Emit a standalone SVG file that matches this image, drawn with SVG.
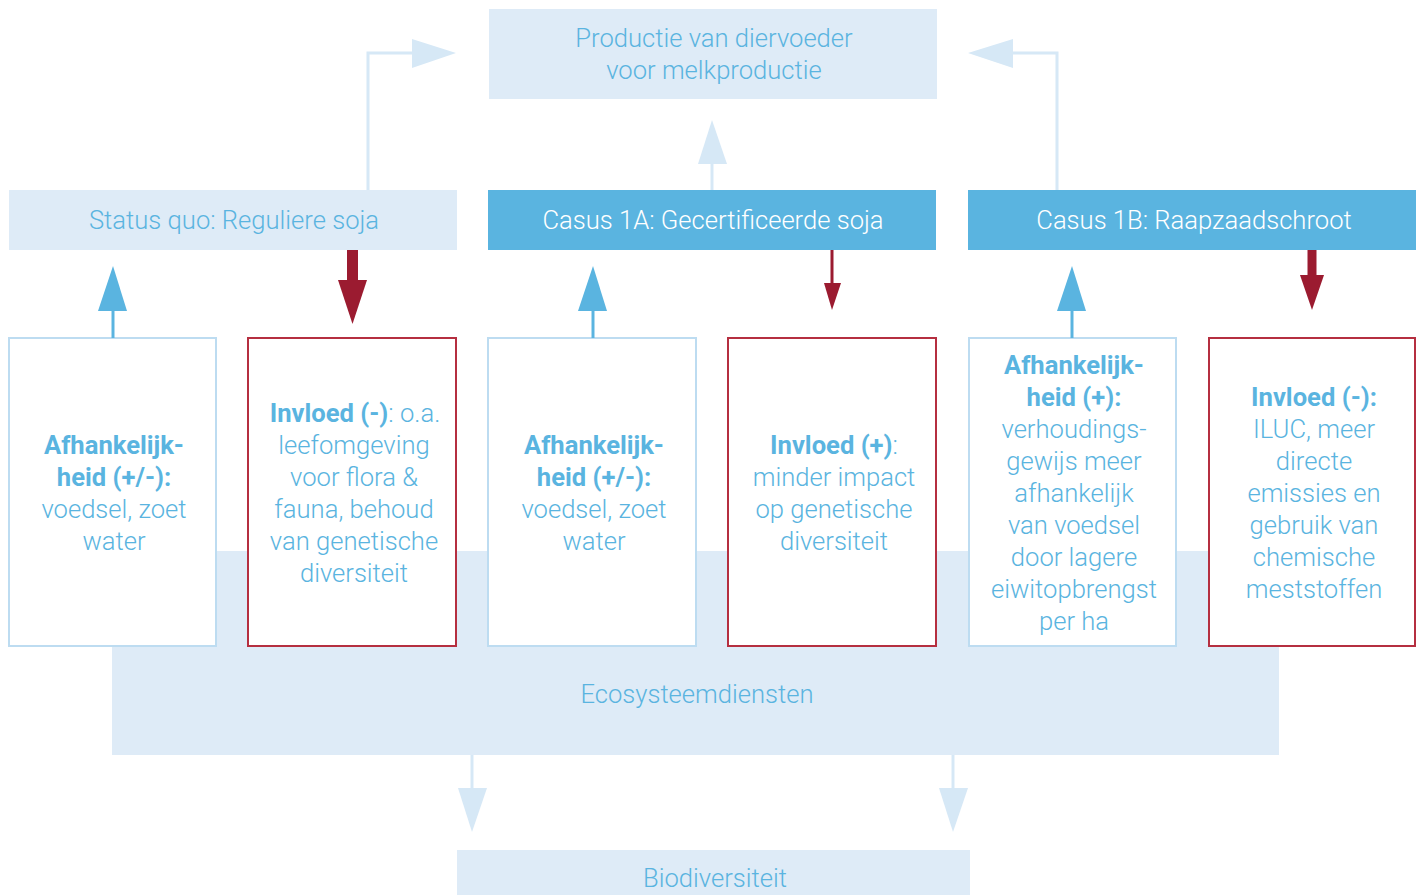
<svg xmlns="http://www.w3.org/2000/svg" width="1420" height="895" viewBox="0 0 1420 895">
<style>
text{font-family:Roboto,"Liberation Sans",sans-serif;font-weight:300;font-size:25.6px;fill:#5ab4e0;text-anchor:middle}
.b{font-weight:700}
.w{fill:#ffffff}
.lf{fill:#deebf7}
.mf{fill:#5ab4e0}
.bb{fill:#ffffff;stroke:#bddcf1;stroke-width:2}
.rb{fill:#ffffff;stroke:#b52f40;stroke-width:2}
.lc{fill:none;stroke:#d6e8f6;stroke-width:3}
.la{fill:#d6e8f6}
.bc{stroke:#5ab4e0;stroke-width:3}
.ba{fill:#5ab4e0}
.rc{stroke:#9b1b30}
.ra{fill:#9b1b30}
</style>
<rect width="1420" height="895" fill="#ffffff"/>
<g id="ecosysteemdiensten">
<rect class="lf" x="112" y="551" width="1167" height="204"/>
<text x="697" y="703">Ecosysteemdiensten</text>
</g>
<g id="productie">
<rect class="lf" x="489" y="9" width="448" height="90"/>
<text x="714" y="47">Productie van diervoeder</text>
<text x="714" y="79">voor melkproductie</text>
</g>
<g id="statusquo">
<rect class="lf" x="9" y="190" width="448" height="60"/>
<text x="234" y="229">Status quo: Reguliere soja</text>
</g>
<g id="casus1a">
<rect class="mf" x="488" y="190" width="448" height="60"/>
<text class="w" x="713" y="229">Casus 1A: Gecertificeerde soja</text>
</g>
<g id="casus1b">
<rect class="mf" x="968" y="190" width="448" height="60"/>
<text class="w" x="1194" y="229">Casus 1B: Raapzaadschroot</text>
</g>
<g id="biodiversiteit">
<rect class="lf" x="457" y="850" width="513" height="45"/>
<text x="715" y="887">Biodiversiteit</text>
</g>
<g id="box1">
<rect class="bb" x="9" y="338" width="207" height="308"/>
<text x="114" y="454" class="b">Afhankelijk-</text>
<text x="114" y="486" class="b">heid (+/-):</text>
<text x="114" y="518">voedsel, zoet</text>
<text x="114" y="550">water</text>
</g>
<g id="box2">
<rect class="rb" x="248" y="338" width="208" height="308"/>
<text x="355" y="422"><tspan class="b">Invloed (-)</tspan>: o.a.</text>
<text x="354" y="454">leefomgeving</text>
<text x="354" y="486">voor flora &amp;</text>
<text x="354" y="518">fauna, behoud</text>
<text x="354" y="550">van genetische</text>
<text x="354" y="582">diversiteit</text>
</g>
<g id="box3">
<rect class="bb" x="488" y="338" width="208" height="308"/>
<text x="594" y="454" class="b">Afhankelijk-</text>
<text x="594" y="486" class="b">heid (+/-):</text>
<text x="594" y="518">voedsel, zoet</text>
<text x="594" y="550">water</text>
</g>
<g id="box4">
<rect class="rb" x="728" y="338" width="208" height="308"/>
<text x="834" y="454"><tspan class="b">Invloed (+)</tspan>:</text>
<text x="834" y="486">minder impact</text>
<text x="834" y="518">op genetische</text>
<text x="834" y="550">diversiteit</text>
</g>
<g id="box5">
<rect class="bb" x="969" y="338" width="207" height="308"/>
<text x="1074" y="374" class="b">Afhankelijk-</text>
<text x="1074" y="406" class="b">heid (+):</text>
<text x="1074" y="438">verhoudings-</text>
<text x="1074" y="470">gewijs meer</text>
<text x="1074" y="502">afhankelijk</text>
<text x="1074" y="534">van voedsel</text>
<text x="1074" y="566">door lagere</text>
<text x="1074" y="598">eiwitopbrengst</text>
<text x="1074" y="630">per ha</text>
</g>
<g id="box6">
<rect class="rb" x="1209" y="338" width="206" height="308"/>
<text x="1314" y="406" class="b">Invloed (-):</text>
<text x="1314" y="438">ILUC, meer</text>
<text x="1314" y="470">directe</text>
<text x="1314" y="502">emissies en</text>
<text x="1314" y="534">gebruik van</text>
<text x="1314" y="566">chemische</text>
<text x="1314" y="598">meststoffen</text>
</g>
<g id="connectors">
<polyline class="lc" points="368,190 368,53 414,53"/>
<polygon class="la" points="412,39 456,53 412,68"/>
<line class="lc" x1="712" y1="190" x2="712" y2="162"/>
<polygon class="la" points="698,164 712,120 727,164"/>
<polyline class="lc" points="1057,190 1057,53 1011,53"/>
<polygon class="la" points="1013,39 968,53 1013,68"/>
<line class="lc" x1="472" y1="755" x2="472" y2="790"/>
<polygon class="la" points="458,788 487,788 472,832"/>
<line class="lc" x1="953" y1="755" x2="953" y2="790"/>
<polygon class="la" points="939,788 968,788 953,832"/>
<line class="bc" x1="113" y1="338" x2="113" y2="308"/>
<polygon class="ba" points="98,311 113,266 127,311"/>
<line class="bc" x1="593" y1="338" x2="593" y2="308"/>
<polygon class="ba" points="578,311 593,266 607,311"/>
<line class="bc" x1="1072" y1="338" x2="1072" y2="308"/>
<polygon class="ba" points="1057,311 1072,266 1086,311"/>
<line class="rc" x1="352.5" y1="250" x2="352.5" y2="282" stroke-width="11"/>
<polygon class="ra" points="338,280 367,280 352.5,324"/>
<line class="rc" x1="832" y1="250" x2="832" y2="285" stroke-width="3"/>
<polygon class="ra" points="824,283 841,283 832,310"/>
<line class="rc" x1="1312" y1="250" x2="1312" y2="277" stroke-width="9"/>
<polygon class="ra" points="1300,275 1324,275 1312,310"/>
</g>
</svg>
